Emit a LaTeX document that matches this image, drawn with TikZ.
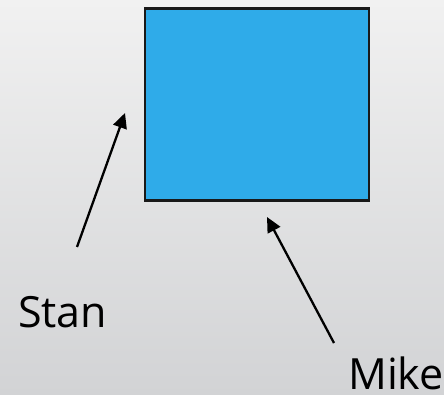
\documentclass[tikz,border=0pt]{standalone}
\usepackage{fontspec}
\setmainfont{Open Sans}
\usetikzlibrary{arrows.meta,positioning}
\definecolor{boxblue}{RGB}{47,171,233}
\definecolor{bgtop}{RGB}{241,241,241}
\definecolor{bgbottom}{RGB}{210,211,213}
\begin{document}
\begin{tikzpicture}[
    x=1pt, y=-1pt,
    thing/.style={draw=black!90, line width=2.2pt, fill=boxblue, minimum width=224pt, minimum height=192pt, inner sep=0pt},
    who/.style={font=\fontsize{43}{50}\selectfont, inner sep=0pt, anchor=base west},
    pointer/.style={line width=2.3pt, -{Triangle[length=15pt,width=14pt]}}
    ]

    % backdrop
    \shade[top color=bgtop, bottom color=bgbottom] (0,0) rectangle (444,395);
    \useasboundingbox (0,0) rectangle (444,395);

    \node[thing] (square) at (257,104.5) {};
    \node[who] (stan) at (18,327) {Stan};
    \node[who] (mike) at (348,389) {Mike};

    \coordinate (stantail) at (77,247);
    \coordinate (stantip) at (125,113);
    \coordinate (miketail) at (334,343);
    \coordinate (miketip) at (267,217);

    \draw[pointer] (stantail) -- (stantip);
    \draw[pointer] (miketail) -- (miketip);

\end{tikzpicture}
\end{document}
